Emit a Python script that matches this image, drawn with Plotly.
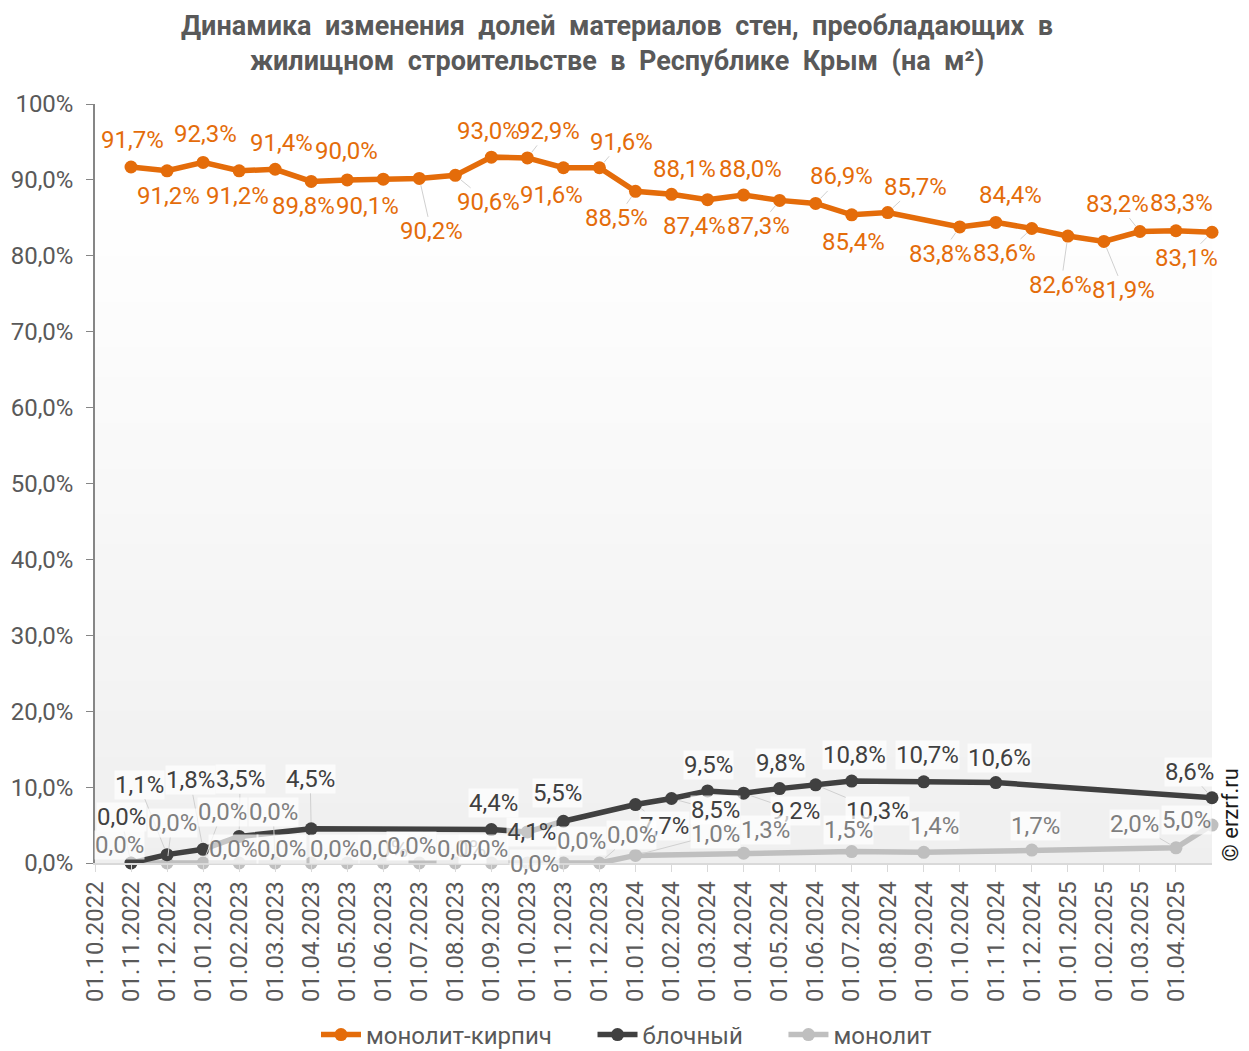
import math
import plotly.graph_objects as go

# ---------------- data ----------------
months = ["01.10.2022", "01.11.2022", "01.12.2022", "01.01.2023", "01.02.2023", "01.03.2023",
          "01.04.2023", "01.05.2023", "01.06.2023", "01.07.2023", "01.08.2023", "01.09.2023",
          "01.10.2023", "01.11.2023", "01.12.2023", "01.01.2024", "01.02.2024", "01.03.2024",
          "01.04.2024", "01.05.2024", "01.06.2024", "01.07.2024", "01.08.2024", "01.09.2024",
          "01.10.2024", "01.11.2024", "01.12.2024", "01.01.2025", "01.02.2025", "01.03.2025",
          "01.04.2025", "01.05.2025"]
dates = months[1:]            # observation dates
tick_labels = months[:31]     # labels shown on the x axis

monolit_kirpich = [91.7, 91.2, 92.3, 91.2, 91.4, 89.8, 90.0, 90.1, 90.2, 90.6, 93.0, 92.9, 91.6, 91.6,
                   88.5, 88.1, 87.4, 88.0, 87.3, 86.9, 85.4, 85.7, None, 83.8, 84.4, 83.6, 82.6, 81.9,
                   83.2, 83.3, 83.1]
blochny = [0.0, 1.1, 1.8, 3.5, None, 4.5, None, None, None, None, 4.4, 4.1, 5.5, None,
           7.7, 8.5, 9.5, 9.2, 9.8, 10.3, 10.8, None, 10.7, None, 10.6, None, None, None,
           None, None, 8.6]
monolit = [0.0, 0.0, 0.0, 0.0, 0.0, 0.0, 0.0, 0.0, 0.0, 0.0, 0.0, 0.0, 0.0, 0.0,
           1.0, None, None, 1.3, None, None, 1.5, None, 1.4, None, None, 1.7, None, None,
           None, 2.0, 5.0]

series_names = ["монолит-кирпич", "блочный", "монолит"]

y_ticks = [0, 10, 20, 30, 40, 50, 60, 70, 80, 90, 100]
y_ticktext = ["0,0%", "10,0%", "20,0%", "30,0%", "40,0%", "50,0%", "60,0%", "70,0%",
              "80,0%", "90,0%", "100%"]

title_lines = ["Динамика изменения долей материалов стен, преобладающих в",
               "жилищном строительстве в Республике Крым (на м²)"]

# ---------------- label placement (pixel offsets) ----------------
mk_off = [(1, -27), (1, 25), (2, -28), (-2, 25), (6, -26), (-8, 25), (-1, -29), (-16, 27),
          (12, 53), (33, 27), (-3, -26), (21, -27), (-12, 27), (22, -26), (-19, 27), (13, -25),
          (-13, 26), (7, -26), (-21, 26), (26, -27), (2, 27), (28, -26), None, (-19, 27),
          (15, -27), (-27, 25), (-7, 49), (20, 49), (-22, -28), (6, -28), (-26, 26)]
bl_off = [(-10, -46), (-28, -70), (-13, -69), (1, -57), None, (-1, -50), None, None, None, None,
          (2, -27), (4, 0), (-6, -28), None, (29, 21), (44, 12), (1, -26), (52, 18), (1, -26),
          (62, 26), (3, -26), None, (4, -27), None, (4, -25), None, None, None, None, None,
          (-23, -26)]
mo_off = [(-12, -18), (5, -40), (19, -51), (-6, -14), (-2, -51), (-30, -14), (-13, -14), (0, -14),
          (-8, -17), (6, -14), (-8, -14), (7, 1), (18, -22), (32, -28), (80, -21), None, None,
          (22, -23), None, None, (-3, -22), None, (11, -26), None, None, (4, -24), None, None,
          None, (-41, -24), (-26, -5)]

C_OR = "#E46C0A"
C_BL = "#404040"
C_GR = "#BFBFBF"
FONT = "Roboto"
FS = 24

# page body has an 8px margin -> figure is placed at (8, 8)
W, H = 1241, 1043
ML, MT, MR, MB = 87, 96, 37, 188
PH = H - MT - MB

fig = go.Figure()

pad = "\u00a0" * 6
specs = [
    (monolit, series_names[2], C_GR, 3, ""),
    (blochny, series_names[1], C_BL, 2, pad),
    (monolit_kirpich, series_names[0], C_OR, 1, pad),
]
for vals, name, col, rank, sfx in specs:
    fig.add_trace(go.Scatter(
        x=dates, y=vals, name=name + sfx, mode="lines+markers", connectgaps=True,
        line=dict(color=col, width=5.5), marker=dict(color=col, size=13),
        legendrank=rank, hoverinfo="skip", cliponaxis=False))

# ---------------- data labels ----------------
def fmt(v):
    return f"{v:.1f}".replace(".", ",") + "%"

annotations = []
label_specs = [
    (monolit_kirpich, mk_off, C_OR, None),
    (blochny, bl_off, C_BL, "rgba(255,255,255,0.7)"),
    (monolit, mo_off, "#7F7F7F", "rgba(255,255,255,0.7)"),
]
for vals, offs, col, bg in label_specs:
    for d, v, off in zip(dates, vals, offs):
        if v is None or off is None:
            continue
        ax, ay = off
        leader = math.hypot(ax, ay) > 32
        annotations.append(dict(
            x=d, y=v, xref="x", yref="y", text=fmt(v), showarrow=True,
            ax=ax, ay=ay, arrowhead=0, arrowwidth=1, standoff=7,
            arrowcolor="#D0D0D0" if leader else "rgba(0,0,0,0)",
            font=dict(family=FONT, size=FS, color=col),
            bgcolor=bg if bg else "rgba(0,0,0,0)", borderpad=0))

# title (two centred bold lines, wide word spacing)
title_text = "<br>".join(line.replace(" ", " \u00a0") for line in title_lines)
annotations.append(dict(
    text="<b>" + title_text + "</b>", xref="paper", yref="paper",
    x=(609 - ML) / 1117, y=(H - MB - 35.5) / PH, xanchor="center", yanchor="middle",
    showarrow=False, align="center", borderpad=0,
    font=dict(family=FONT, size=27, color="#595959")))

# watermark
annotations.append(dict(
    text="© erzrf.ru", xref="paper", yref="paper", x=(1207 - ML) / 1117, y=(855 - 807) / PH,
    xanchor="left", yanchor="middle", showarrow=False, textangle=-90,
    font=dict(family=FONT, size=22, color="#1a1a1a")))

# ---------------- background gradient of plot area ----------------
shapes = []
N = 44
top = 0.88
for i in range(N):
    y0 = top * i / N
    y1 = top * (i + 1) / N + 0.002
    t = (i + 0.5) / N
    c = int(round(239 + (255 - 239) * t))
    shapes.append(dict(type="rect", xref="paper", yref="paper", x0=0, x1=1, y0=y0, y1=min(y1, top),
                       fillcolor=f"rgb({c},{c},{c})", line=dict(width=0), layer="below"))

fig.update_layout(
    width=W, height=H,
    margin=dict(l=ML, r=MR, t=MT, b=MB, autoexpand=False),
    paper_bgcolor="white", plot_bgcolor="white",
    font=dict(family=FONT, size=FS, color="#595959"),
    showlegend=True,
    legend=dict(orientation="h", xref="container", yref="container", x=(627 - 8) / W,
                xanchor="center", y=(H - (1035 - 8)) / H, yanchor="middle",
                font=dict(family=FONT, size=FS, color="#595959"),
                itemwidth=40, traceorder="normal"),
    annotations=annotations,
    shapes=shapes,
    xaxis=dict(type="category", categoryorder="array", categoryarray=months,
               range=[0, 31], tickvals=tick_labels, ticktext=tick_labels, tickangle=-90,
               showline=True, linecolor="#D9D9D9", linewidth=1.5, ticks="outside", ticklen=7,
               tickcolor="#D9D9D9", showgrid=False, zeroline=False, automargin=False,
               tickfont=dict(family=FONT, size=FS, color="#595959")),
    yaxis=dict(range=[0, 100], tickvals=y_ticks, ticktext=y_ticktext, showline=True,
               linecolor="#868686", linewidth=1.5, ticks="outside", ticklen=7, tickcolor="#868686",
               showgrid=False, zeroline=False, ticklabelstandoff=8, automargin=False,
               tickfont=dict(family=FONT, size=FS, color="#595959")),
)

fig.write_html("out.html")
